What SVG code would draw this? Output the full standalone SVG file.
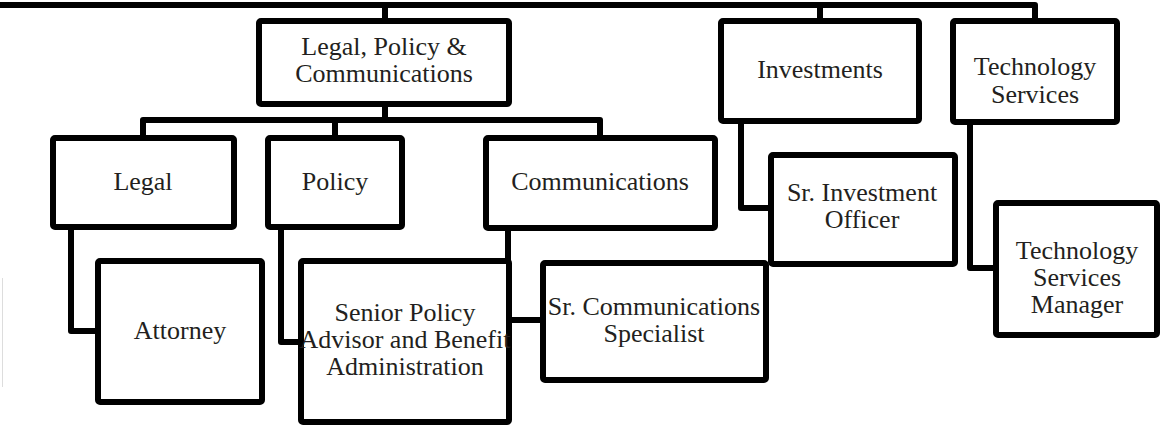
<svg xmlns="http://www.w3.org/2000/svg" width="1160" height="425" viewBox="0 0 1160 425">
<style>
.box{fill:#fff;stroke:#000;stroke-width:6;stroke-linejoin:round}
.conn{fill:none;stroke:#000;stroke-width:6;stroke-linejoin:round;stroke-linecap:butt}
text{font-family:"Liberation Serif","Times New Roman",serif;font-size:26px;fill:#231f20;text-anchor:middle}
</style>
<rect width="1160" height="425" fill="#fff"/>
<line x1="2.5" y1="278" x2="2.5" y2="387" stroke="#ddd" stroke-width="1"/>
<g id="connectors">
<path class="conn" d="M0,5 H1035 V21"/>
<path class="conn" d="M385,5 V21"/>
<path class="conn" d="M820,5 V21"/>
<path class="conn" d="M385,104 V120"/>
<path class="conn" d="M143,138 V120 H600 V138"/>
<path class="conn" d="M335,120 V138"/>
<path class="conn" d="M71,227 V331 H98"/>
<path class="conn" d="M281,227 V342 H301"/>
<path class="conn" d="M508,228 V320 H543"/>
<path class="conn" d="M741,121 V208 H771"/>
<path class="conn" d="M970,122 V268 H996"/>
</g>
<g id="lpc"><rect class="box" x="259" y="21" width="250" height="83" rx="2"/>
<text x="384" y="55">Legal, Policy &amp;</text><text x="384" y="82">Communications</text></g>
<g id="investments"><rect class="box" x="721" y="21" width="198" height="100" rx="2"/>
<text x="820" y="78">Investments</text></g>
<g id="tech"><rect class="box" x="953" y="21" width="164" height="101" rx="2"/>
<text x="1035" y="75">Technology</text><text x="1035" y="103">Services</text></g>
<g id="legal"><rect class="box" x="53" y="138" width="181" height="89" rx="2"/>
<text x="143" y="190">Legal</text></g>
<g id="policy"><rect class="box" x="268" y="138" width="134" height="89" rx="2"/>
<text x="335" y="190">Policy</text></g>
<g id="communications"><rect class="box" x="486" y="138" width="229" height="90" rx="2"/>
<text x="600" y="190">Communications</text></g>
<g id="sr-investment"><rect class="box" x="771" y="155" width="184" height="109" rx="2"/>
<text x="862" y="201">Sr. Investment</text><text x="862" y="228">Officer</text></g>
<g id="tech-manager"><rect class="box" x="996" y="203" width="161" height="132" rx="2"/>
<text x="1077" y="259">Technology</text><text x="1077" y="286">Services</text><text x="1077" y="313">Manager</text></g>
<g id="attorney"><rect class="box" x="98" y="261" width="164" height="141" rx="2"/>
<text x="180" y="339">Attorney</text></g>
<g id="senior-policy"><rect class="box" x="301" y="261" width="208" height="161" rx="2"/>
<text x="405" y="321">Senior Policy</text><text x="405" y="348">Advisor and Benefit</text><text x="405" y="375">Administration</text></g>
<g id="sr-comm"><rect class="box" x="543" y="263" width="223" height="117" rx="2"/>
<text x="654" y="315">Sr. Communications</text><text x="654" y="342">Specialist</text></g>
</svg>
